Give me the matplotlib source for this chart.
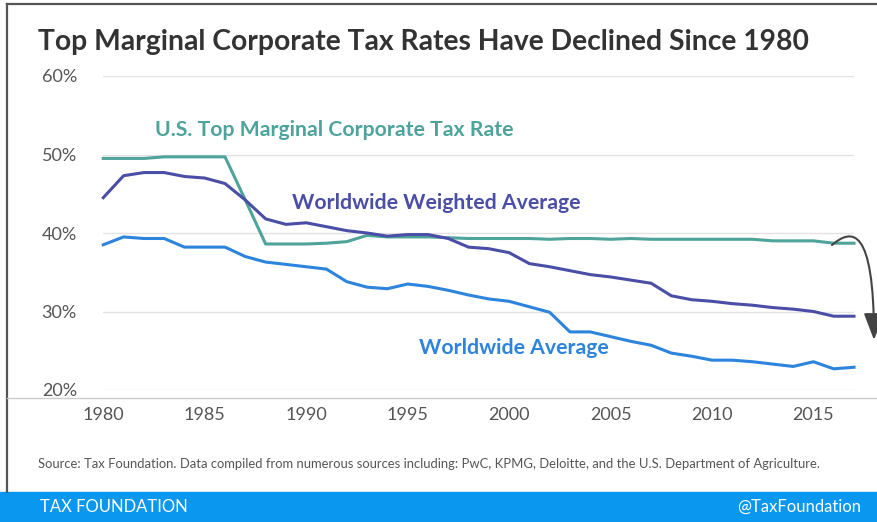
import numpy as np
import matplotlib
matplotlib.use("Agg")
import matplotlib.pyplot as plt
from matplotlib.path import Path
from matplotlib.patches import FancyArrowPatch, Rectangle
from matplotlib.lines import Line2D


# =========================
# data: top marginal corporate tax rates, 1980-2017 (%)
# =========================
YEARS = list(range(1980, 2018))

US_RATE = [
    49.5, 49.5, 49.5, 49.7, 49.7, 49.7, 49.7, 44.2, 38.6, 38.6,
    38.6, 38.7, 38.9, 39.7, 39.5, 39.5, 39.5, 39.4, 39.3, 39.3,
    39.3, 39.3, 39.2, 39.3, 39.3, 39.2, 39.3, 39.2, 39.2, 39.2,
    39.2, 39.2, 39.2, 39.0, 39.0, 39.0, 38.7, 38.7,
]

WEIGHTED_AVG = [
    44.5, 47.3, 47.7, 47.7, 47.2, 47.0, 46.3, 44.2, 41.8, 41.1,
    41.3, 40.8, 40.3, 40.0, 39.6, 39.8, 39.8, 39.3, 38.2, 38.0,
    37.5, 36.1, 35.7, 35.2, 34.7, 34.4, 34.0, 33.6, 32.0, 31.5,
    31.3, 31.0, 30.8, 30.5, 30.3, 30.0, 29.4, 29.4,
]

SIMPLE_AVG = [
    38.5, 39.5, 39.3, 39.3, 38.2, 38.2, 38.2, 37.0, 36.3, 36.0,
    35.7, 35.4, 33.8, 33.1, 32.9, 33.5, 33.2, 32.7, 32.1, 31.6,
    31.3, 30.6, 29.9, 27.4, 27.4, 26.8, 26.2, 25.7, 24.7, 24.3,
    23.8, 23.8, 23.6, 23.3, 23.0, 23.6, 22.7, 22.9,
]

Y_TICKS = [20, 30, 40, 50, 60]
X_TICKS = [1980, 1985, 1990, 1995, 2000, 2005, 2010, 2015]

TITLE = "Top Marginal Corporate Tax Rates Have Declined Since 1980"
SOURCE = ("Source: Tax Foundation. Data compiled from numerous sources including: "
          "PwC, KPMG, Deloitte, and the U.S. Department of Agriculture.")

C_US = "#4ea39b"
C_WEIGHTED = "#4a4ea6"
C_AVG = "#2d84dc"
C_FOOTER = "#0a97ef"
C_TEXT = "#333333"
C_TICK = "#555555"

W, H = 878, 522


def px(x, y):
    """pixel position (origin top-left) -> figure fraction"""
    return x / W, 1 - y / H


def main():
    plt.rcParams["font.family"] = ["Lato", "DejaVu Sans"]

    fig = plt.figure(figsize=(W / 100, H / 100), dpi=100)
    fig.patch.set_facecolor("white")

    left, top = px(103.3, 76)
    right, bottom = px(854, 390)
    ax = fig.add_axes([left, bottom, right - left, top - bottom])

    ax.plot(YEARS, US_RATE, color=C_US, lw=2.2, clip_on=False, zorder=3)
    ax.plot(YEARS, WEIGHTED_AVG, color=C_WEIGHTED, lw=2.2, clip_on=False, zorder=4)
    ax.plot(YEARS, SIMPLE_AVG, color=C_AVG, lw=2.2, clip_on=False, zorder=5)

    ax.set_xlim(YEARS[0], YEARS[-1])
    ax.set_ylim(Y_TICKS[0], Y_TICKS[-1])
    ax.set_yticks(Y_TICKS)
    ax.set_yticklabels([f"{v}%" for v in Y_TICKS])
    ax.set_xticks(X_TICKS)
    ax.grid(axis="y", color="#e3e3e3", lw=1.0)
    ax.grid(axis="x", visible=False)
    for s in ax.spines.values():
        s.set_visible(False)
    ax.tick_params(axis="y", length=0, pad=19, labelsize=13, labelcolor=C_TICK)
    ax.tick_params(axis="x", length=0, pad=12, labelsize=13, labelcolor=C_TICK)

    # series labels
    ax.text(1982.55, 53.1, "U.S. Top Marginal Corporate Tax Rate", color=C_US,
            fontsize=15.3, fontweight="bold", va="center")
    ax.text(1989.3, 43.8, "Worldwide Weighted Average", color=C_WEIGHTED,
            fontsize=15.3, fontweight="bold", va="center")
    ax.text(1995.55, 25.35, "Worldwide Average", color=C_AVG,
            fontsize=15.3, fontweight="bold", va="center")

    # curved arrow from the end of the U.S. line down the right side
    verts = [px(832, 245), px(852, 228), px(874, 226), px(874, 340)]
    codes = [Path.MOVETO, Path.CURVE4, Path.CURVE4, Path.CURVE4]
    arrow = FancyArrowPatch(path=Path(verts, codes), arrowstyle="-|>,head_length=1.1,head_width=0.42",
                            mutation_scale=15, color="#444444", lw=1.5,
                            transform=fig.transFigure)
    fig.patches.append(arrow)

    # title, source and frame
    fig.text(*px(38, 42), TITLE, fontsize=20.3, fontweight="bold", color=C_TEXT, va="center")
    fig.text(*px(38, 464), SOURCE, fontsize=9.4, color=C_TICK, va="center")

    fig.lines.append(Line2D([px(7, 0)[0], 1], [px(0, 4)[1]] * 2, color="#555555", lw=1.6,
                            transform=fig.transFigure))
    fig.lines.append(Line2D([px(7, 0)[0]] * 2, [px(0, 4)[1], px(0, 492)[1]], color="#555555",
                            lw=1.6, transform=fig.transFigure))
    fig.lines.append(Line2D([px(7, 0)[0], 1], [px(0, 398)[1]] * 2, color="#cccccc", lw=1.0,
                            transform=fig.transFigure))

    # footer bar
    fig.patches.append(Rectangle(px(0, 522), 1, 30 / H, color=C_FOOTER,
                                 transform=fig.transFigure))
    fig.text(*px(40, 507), "TAX FOUNDATION", fontsize=12, color="white", va="center")
    fig.text(*px(861, 507), "@TaxFoundation", fontsize=12, color="white", va="center",
             ha="right")

    fig.savefig("out.png", dpi=100)
    plt.close(fig)


if __name__ == "__main__":
    main()
